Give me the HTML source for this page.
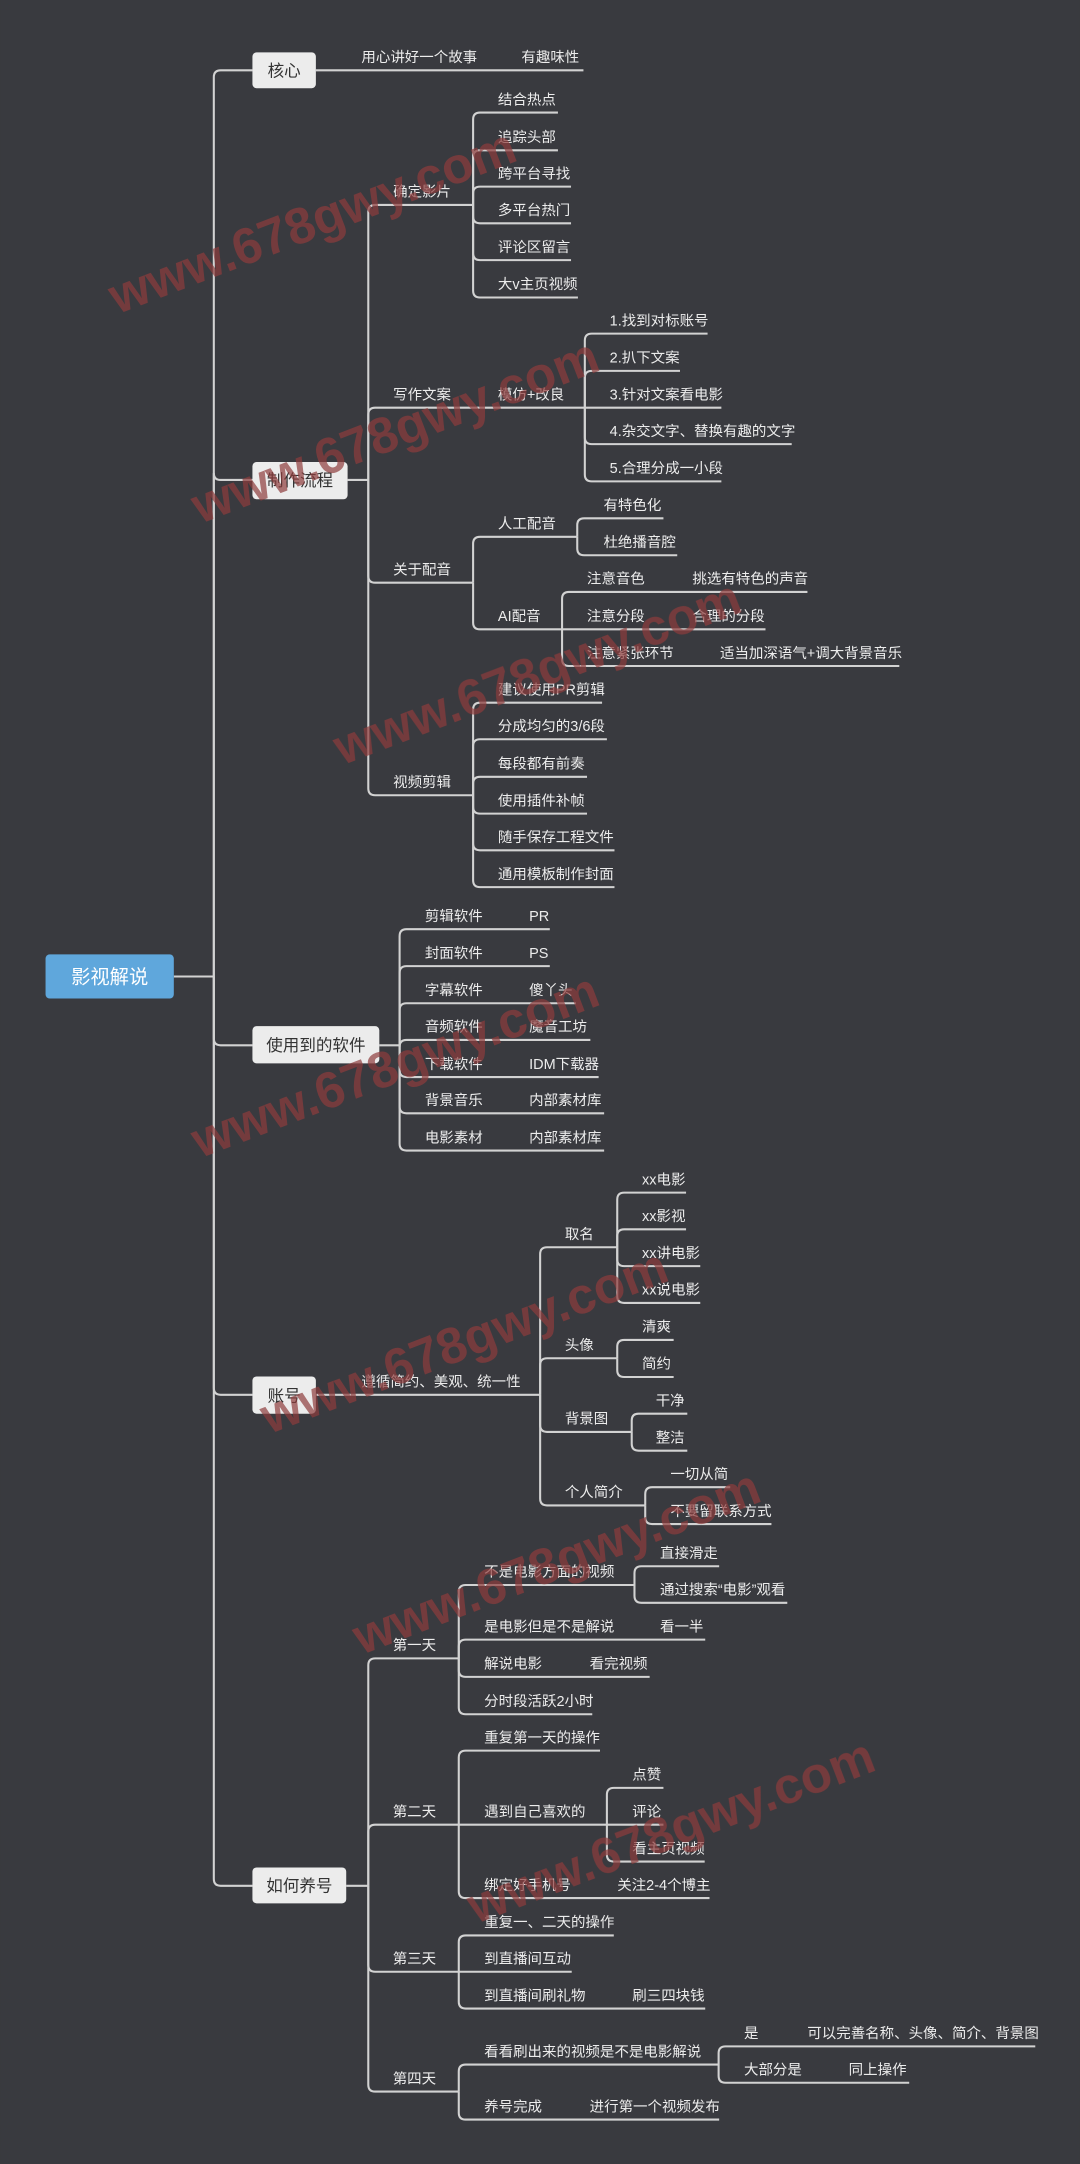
<!DOCTYPE html>
<html><head><meta charset="utf-8"><style>
html,body{margin:0;padding:0;background:#393a3f;}
svg{display:block}
text{font-family:"Liberation Sans","Noto Sans CJK SC",sans-serif;}
.t{fill:#ececec;font-size:10.5px}
.b{fill:#333;font-size:12px;text-anchor:middle}
.l{fill:none;stroke:#d2d2d2;stroke-width:1.5}
.w{fill:#8e3d3d;opacity:.7;font-size:37px;font-weight:bold;font-family:"Liberation Sans",sans-serif}
</style></head><body>
<svg width="1080" height="2164" viewBox="0 0 783 1569" xmlns="http://www.w3.org/2000/svg">
<rect width="783" height="1569" fill="#393a3f"/>
<g class="l">
<path d="M126 708H155"/>
<path d="M155 708V56Q155 51 160 51H183"/>
<path d="M155 708V343Q155 348 160 348H183"/>
<path d="M155 708V752.9Q155 757.9 160 757.9H183"/>
<path d="M155 708V1006.3Q155 1011.3 160 1011.3H183"/>
<path d="M155 708V1362.3Q155 1367.3 160 1367.3H183"/>
<path d="M229 51H423"/>
<path d="M252 348H267"/>
<path d="M267 348V153.6Q267 148.6 272 148.6H343"/>
<path d="M267 348V300.6Q267 295.6 272 295.6H424"/>
<path d="M267 348V417.5Q267 422.5 272 422.5H343"/>
<path d="M267 348V571.6Q267 576.6 272 576.6H343"/>
<path d="M343 148.6V86.6Q343 81.6 348 81.6H404.5"/>
<path d="M343 148.6V114Q343 109 348 109H404.5"/>
<path d="M343 148.6V140.3Q343 135.3 348 135.3H414"/>
<path d="M343 148.6V156.9Q343 161.9 348 161.9H414"/>
<path d="M343 148.6V183.6Q343 188.6 348 188.6H414"/>
<path d="M343 148.6V210.7Q343 215.7 348 215.7H419"/>
<path d="M424 295.6V246.9Q424 241.9 429 241.9H513"/>
<path d="M424 295.6V273.9Q424 268.9 429 268.9H493"/>
<path d="M424 295.6H523"/>
<path d="M424 295.6V317Q424 322 429 322H574"/>
<path d="M424 295.6V344Q424 349 429 349H523"/>
<path d="M343 422.5V394.2Q343 389.2 348 389.2H418.5"/>
<path d="M343 422.5V451.3Q343 456.3 348 456.3H407.5"/>
<path d="M418.5 389.2V380.8Q418.5 375.8 423.5 375.8H481"/>
<path d="M418.5 389.2V397.6Q418.5 402.6 423.5 402.6H491"/>
<path d="M407.5 456.3V434.2Q407.5 429.2 412.5 429.2H585.4"/>
<path d="M407.5 456.3H555"/>
<path d="M407.5 456.3V477.9Q407.5 482.9 412.5 482.9H652"/>
<path d="M343 576.6V514.5Q343 509.5 348 509.5H436.5"/>
<path d="M343 576.6V541Q343 536 348 536H440"/>
<path d="M343 576.6V568.2Q343 563.2 348 563.2H425.6"/>
<path d="M343 576.6V584.9Q343 589.9 348 589.9H425.6"/>
<path d="M343 576.6V611.5Q343 616.5 348 616.5H445.5"/>
<path d="M343 576.6V638.2Q343 643.2 348 643.2H445.5"/>
<path d="M275 757.9H289.7"/>
<path d="M289.7 757.9V678.7Q289.7 673.7 294.7 673.7H398.6"/>
<path d="M289.7 757.9V705.5Q289.7 700.5 294.7 700.5H398.6"/>
<path d="M289.7 757.9V732.4Q289.7 727.4 294.7 727.4H417.5"/>
<path d="M289.7 757.9V759Q289.7 754 294.7 754H428"/>
<path d="M289.7 757.9V775.9Q289.7 780.9 294.7 780.9H434"/>
<path d="M289.7 757.9V802.2Q289.7 807.2 294.7 807.2H438"/>
<path d="M289.7 757.9V829.2Q289.7 834.2 294.7 834.2H438"/>
<path d="M229 1011.3H391.6"/>
<path d="M391.6 1011.3V909.3Q391.6 904.3 396.6 904.3H447.5"/>
<path d="M391.6 1011.3V989.8Q391.6 984.8 396.6 984.8H447.5"/>
<path d="M391.6 1011.3V1033.2Q391.6 1038.2 396.6 1038.2H458"/>
<path d="M391.6 1011.3V1086.5Q391.6 1091.5 396.6 1091.5H467.8"/>
<path d="M447.5 904.3V869.7Q447.5 864.7 452.5 864.7H497.4"/>
<path d="M447.5 904.3V896.3Q447.5 891.3 452.5 891.3H497.4"/>
<path d="M447.5 904.3V913Q447.5 918 452.5 918H507.7"/>
<path d="M447.5 904.3V939.7Q447.5 944.7 452.5 944.7H507.7"/>
<path d="M447.5 984.8V976.5Q447.5 971.5 452.5 971.5H488.4"/>
<path d="M447.5 984.8V993.4Q447.5 998.4 452.5 998.4H488.4"/>
<path d="M458 1038.2V1030Q458 1025 463 1025H498.3"/>
<path d="M458 1038.2V1046.8Q458 1051.8 463 1051.8H498.3"/>
<path d="M467.8 1091.5V1083.3Q467.8 1078.3 472.8 1078.3H529.4"/>
<path d="M467.8 1091.5V1100Q467.8 1105 472.8 1105H559.3"/>
<path d="M251 1367.3H267"/>
<path d="M267 1367.3V1207.4Q267 1202.4 272 1202.4H332.6"/>
<path d="M267 1367.3V1328Q267 1323 272 1323H332.6"/>
<path d="M267 1367.3V1424.6Q267 1429.6 272 1429.6H332.6"/>
<path d="M267 1367.3V1511.5Q267 1516.5 272 1516.5H332.6"/>
<path d="M332.6 1202.4V1154.2Q332.6 1149.2 337.6 1149.2H460"/>
<path d="M332.6 1202.4V1193.8Q332.6 1188.8 337.6 1188.8H511.3"/>
<path d="M332.6 1202.4V1210.8Q332.6 1215.8 337.6 1215.8H471"/>
<path d="M332.6 1202.4V1237.9Q332.6 1242.9 337.6 1242.9H429.4"/>
<path d="M460 1149.2V1140.6Q460 1135.6 465 1135.6H521.4"/>
<path d="M460 1149.2V1157.1Q460 1162.1 465 1162.1H570.8"/>
<path d="M332.6 1323V1274.3Q332.6 1269.3 337.6 1269.3H435"/>
<path d="M332.6 1323H440"/>
<path d="M332.6 1323V1371.2Q332.6 1376.2 337.6 1376.2H514.4"/>
<path d="M440 1323V1301.3Q440 1296.3 445 1296.3H481"/>
<path d="M440 1323H481"/>
<path d="M440 1323V1344.7Q440 1349.7 445 1349.7H510.9"/>
<path d="M332.6 1429.6V1408.3Q332.6 1403.3 337.6 1403.3H445"/>
<path d="M332.6 1429.6H414.5"/>
<path d="M332.6 1429.6V1451.3Q332.6 1456.3 337.6 1456.3H511.3"/>
<path d="M332.6 1516.5V1501.9Q332.6 1496.9 337.6 1496.9H521"/>
<path d="M332.6 1516.5V1531.8Q332.6 1536.8 337.6 1536.8H521.4"/>
<path d="M521 1496.9V1488.7Q521 1483.7 526 1483.7H750.6"/>
<path d="M521 1496.9V1505.1Q521 1510.1 526 1510.1H659.2"/>
</g>
<rect x="33" y="692" width="93" height="32" rx="3" fill="#5fa7dc"/>
<text x="79.5" y="713" style="fill:#fff;font-size:14px;text-anchor:middle">影视解说</text>
<g fill="#ececec">
<rect x="183" y="38" width="46" height="26" rx="3"/>
<rect x="183" y="335" width="69" height="27" rx="3"/>
<rect x="183" y="744" width="92" height="27" rx="3"/>
<rect x="183" y="998" width="46" height="27" rx="3"/>
<rect x="183" y="1354" width="68" height="26" rx="3"/>
</g>
<text class="b" x="206" y="55.5">核心</text>
<text class="b" x="217.5" y="352.5">制作流程</text>
<text class="b" x="229" y="762">使用到的软件</text>
<text class="b" x="206" y="1016">账号</text>
<text class="b" x="217" y="1371.5">如何养号</text>
<g class="t">
<text x="262" y="45">用心讲好一个故事</text><text x="378" y="45">有趣味性</text>
<text x="285" y="142.6">确定影片</text>
<text x="361" y="75.6">结合热点</text><text x="361" y="103">追踪头部</text><text x="361" y="129.3">跨平台寻找</text><text x="361" y="155.9">多平台热门</text><text x="361" y="182.6">评论区留言</text><text x="361" y="209.7">大v主页视频</text>
<text x="285" y="289.6">写作文案</text><text x="361" y="289.6">模仿+改良</text>
<text x="442" y="235.9">1.找到对标账号</text><text x="442" y="262.9">2.扒下文案</text><text x="442" y="289.6">3.针对文案看电影</text><text x="442" y="316">4.杂交文字、替换有趣的文字</text><text x="442" y="343">5.合理分成一小段</text>
<text x="285" y="416.5">关于配音</text>
<text x="361" y="383.2">人工配音</text><text x="437.5" y="369.8">有特色化</text><text x="437.5" y="396.6">杜绝播音腔</text>
<text x="361" y="450.3">AI配音</text>
<text x="425.5" y="423.2">注意音色</text><text x="502" y="423.2">挑选有特色的声音</text>
<text x="425.5" y="450.3">注意分段</text><text x="502" y="450.3">合理的分段</text>
<text x="425.5" y="476.9">注意紧张环节</text><text x="522" y="476.9">适当加深语气+调大背景音乐</text>
<text x="285" y="570.6">视频剪辑</text>
<text x="361" y="503.5">建议使用PR剪辑</text><text x="361" y="530">分成均匀的3/6段</text><text x="361" y="557.2">每段都有前奏</text><text x="361" y="583.9">使用插件补帧</text><text x="361" y="610.5">随手保存工程文件</text><text x="361" y="637.2">通用模板制作封面</text>
<text x="308" y="667.7">剪辑软件</text><text x="383.6" y="667.7">PR</text>
<text x="308" y="694.5">封面软件</text><text x="383.6" y="694.5">PS</text>
<text x="308" y="721.4">字幕软件</text><text x="383.6" y="721.4">傻丫头</text>
<text x="308" y="748">音频软件</text><text x="383.6" y="748">魔音工坊</text>
<text x="308" y="774.9">下载软件</text><text x="383.6" y="774.9">IDM下载器</text>
<text x="308" y="801.2">背景音乐</text><text x="383.6" y="801.2">内部素材库</text>
<text x="308" y="828.2">电影素材</text><text x="383.6" y="828.2">内部素材库</text>
<text x="262" y="1005.3">遵循简约、美观、统一性</text>
<text x="409.5" y="898.3">取名</text>
<text x="465.5" y="858.7">xx电影</text><text x="465.5" y="885.3">xx影视</text><text x="465.5" y="912">xx讲电影</text><text x="465.5" y="938.7">xx说电影</text>
<text x="409.5" y="978.8">头像</text><text x="465.5" y="965.5">清爽</text><text x="465.5" y="992.4">简约</text>
<text x="409.5" y="1032.2">背景图</text><text x="475.4" y="1019">干净</text><text x="475.4" y="1045.8">整洁</text>
<text x="409.5" y="1085.5">个人简介</text><text x="486" y="1072.3">一切从简</text><text x="486" y="1099">不要留联系方式</text>
<text x="284.7" y="1196.4">第一天</text>
<text x="351" y="1143.2">不是电影方面的视频</text><text x="478.5" y="1129.6">直接滑走</text><text x="478.5" y="1156.1">通过搜索“电影”观看</text>
<text x="351" y="1182.8">是电影但是不是解说</text><text x="478.5" y="1182.8">看一半</text>
<text x="351" y="1209.8">解说电影</text><text x="427.5" y="1209.8">看完视频</text>
<text x="351" y="1236.9">分时段活跃2小时</text>
<text x="284.7" y="1317">第二天</text>
<text x="351" y="1263.3">重复第一天的操作</text>
<text x="351" y="1317">遇到自己喜欢的</text><text x="458.4" y="1290.3">点赞</text><text x="458.4" y="1317">评论</text><text x="458.4" y="1343.7">看主页视频</text>
<text x="351" y="1370.2">绑定好手机号</text><text x="447.5" y="1370.2">关注2-4个博主</text>
<text x="284.7" y="1423.6">第三天</text>
<text x="351" y="1397.3">重复一、二天的操作</text><text x="351" y="1423.6">到直播间互动</text>
<text x="351" y="1450.3">到直播间刷礼物</text><text x="458.4" y="1450.3">刷三四块钱</text>
<text x="284.7" y="1510.5">第四天</text>
<text x="351" y="1490.9">看看刷出来的视频是不是电影解说</text>
<text x="539.4" y="1477.7">是</text><text x="585.3" y="1477.7">可以完善名称、头像、简介、背景图</text>
<text x="539.4" y="1504.1">大部分是</text><text x="615.3" y="1504.1">同上操作</text>
<text x="351" y="1530.8">养号完成</text><text x="427.5" y="1530.8">进行第一个视频发布</text>
</g>
<g class="w">
<text transform="translate(85,228) rotate(-21)">www.678gwy.com</text>
<text transform="translate(145,380) rotate(-21)">www.678gwy.com</text>
<text transform="translate(248,555) rotate(-21)">www.678gwy.com</text>
<text transform="translate(145,840) rotate(-21)">www.678gwy.com</text>
<text transform="translate(195,1040) rotate(-21)">www.678gwy.com</text>
<text transform="translate(262,1200) rotate(-21)">www.678gwy.com</text>
<text transform="translate(345,1395) rotate(-21)">www.678gwy.com</text>
</g>
</svg>
</body></html>
